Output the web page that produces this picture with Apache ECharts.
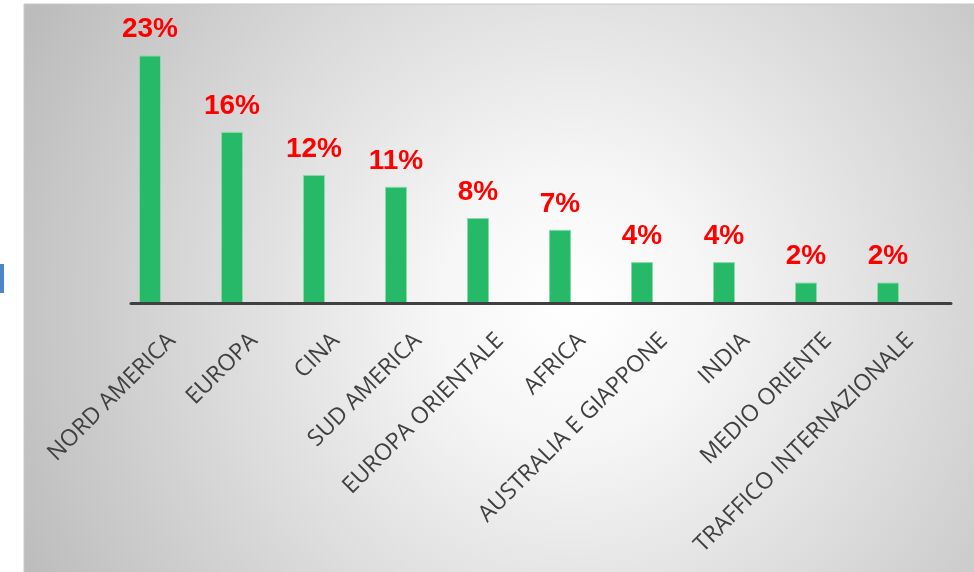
<!DOCTYPE html>
<html>
<head>
<meta charset="utf-8">
<script src="https://cdn.jsdelivr.net/npm/echarts@6/dist/echarts.min.js"></script>
<style>
html,body{margin:0;padding:0;background:#fff;}
#c{width:974px;height:572px;}
</style>
</head>
<body>
<div id="c"></div>
<script>
const categories = ["NORD AMERICA","EUROPA","CINA","SUD AMERICA","EUROPA ORIENTALE","AFRICA","AUSTRALIA E GIAPPONE","INDIA","MEDIO ORIENTE","TRAFFICO INTERNAZIONALE"];
const shares = [23, 15.9, 11.9, 10.8, 7.9, 6.8, 3.8, 3.8, 1.9, 1.9];
const emptyA = [null,null,null,null,null,null,null,null,null,null];
const emptyB = [null,null,null,null,null,null,null,null,null,null];

const chart = echarts.init(document.getElementById('c'), null, {renderer:'canvas'});
chart.setOption({
  animation:false,
  graphic:[
    {type:'rect', z:-10, shape:{x:24,y:4,width:960,height:580},
     style:{fill:{type:'radial',x:0.57,y:0.52,r:1.05,colorStops:[{offset:0,color:'#ffffff'},{offset:0.22,color:'#f6f6f6'},{offset:1,color:'#bcbcbc'}]},
            stroke:'#c8c8c8', lineWidth:1}},
    {type:'rect', z:-9, shape:{x:0,y:264,width:4,height:29}, style:{fill:'#4a86c8'}}
  ],
  grid:{left:131, width:820, top:34, bottom:269, containLabel:false},
  xAxis:{type:'category', data:categories, z:5,
    axisLine:{lineStyle:{color:'#404040', width:3}},
    axisTick:{show:false},
    axisLabel:{rotate:45, interval:0, margin:34, color:'#404040', fontSize:23, fontFamily:'Open Sans'}
  },
  yAxis:{type:'value', min:0, max:25, show:false, splitLine:{show:false}},
  series:[
    {type:'bar', data:shares, barWidth:22, barGap:'0%',
     itemStyle:{color:'#26b968', borderColor:'#8ad9ab', borderWidth:1},
     label:{show:true, position:'top', distance:12, color:'#ff0000', fontWeight:'bold', fontSize:28, fontFamily:'Liberation Sans',
       formatter:p=>Math.round(p.value)+'%'}},
    {type:'bar', data:emptyA, barWidth:22, barGap:'0%'},
    {type:'bar', data:emptyB, barWidth:22, barGap:'0%'}
  ]
});
</script>
</body>
</html>
